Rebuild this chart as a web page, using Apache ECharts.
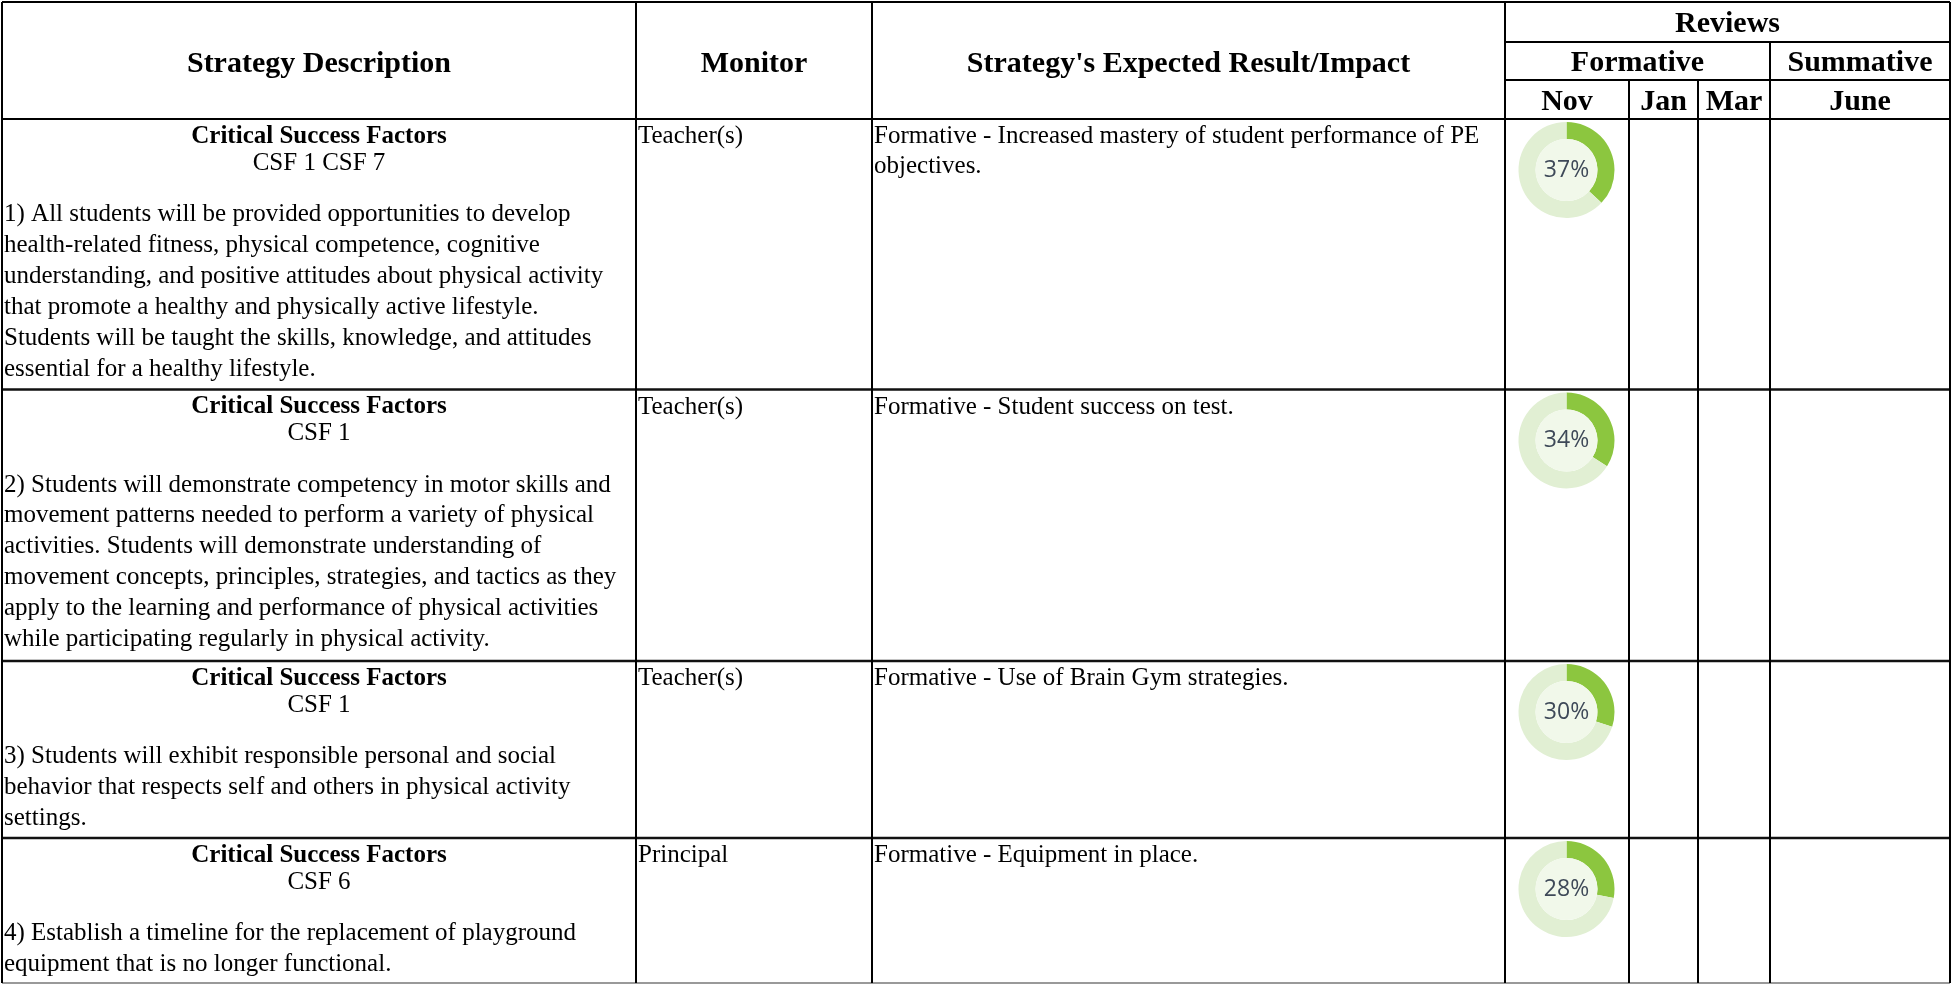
<!DOCTYPE html>
<html><head><meta charset="utf-8">
<script src="https://cdn.jsdelivr.net/npm/echarts@6/dist/echarts.min.js"></script>
<style>html,body{margin:0;padding:0;background:#fff}#c{width:1951px;height:984px}</style>
</head><body><div id="c"></div>
<script>
// ---- data ----
const headers = ["Strategy Description", "Monitor", "Strategy's Expected Result/Impact"];
const reviewTitle = "Reviews";
const reviewGroups = ["Formative", "Summative"];
const months = ["Nov", "Jan", "Mar", "June"];
const csfTitle = "Critical Success Factors";
const csfCodes = ["CSF 1 CSF 7", "CSF 1", "CSF 1", "CSF 6"];
const strategies = [
  ["1) All students will be provided opportunities to develop",
   "health-related fitness, physical competence, cognitive",
   "understanding, and positive attitudes about physical activity",
   "that promote a healthy and physically active lifestyle.",
   "Students will be taught the skills, knowledge, and attitudes",
   "essential for a healthy lifestyle."],
  ["2) Students will demonstrate competency in motor skills and",
   "movement patterns needed to perform a variety of physical",
   "activities. Students will demonstrate understanding of",
   "movement concepts, principles, strategies, and tactics as they",
   "apply to the learning and performance of physical activities",
   "while participating regularly in physical activity."],
  ["3) Students will exhibit responsible personal and social",
   "behavior that respects self and others in physical activity",
   "settings."],
  ["4) Establish a timeline for the replacement of playground",
   "equipment that is no longer functional."]
];
const monitors = ["Teacher(s)", "Teacher(s)", "Teacher(s)", "Principal"];
const results = [
  ["Formative - Increased mastery of student performance of PE", "objectives."],
  ["Formative - Student success on test."],
  ["Formative - Use of Brain Gym strategies."],
  ["Formative - Equipment in place."]
];
const novProgress = [37, 34, 30, 28];

// ---- layout ----
const COLS = [2, 636, 872, 1505, 1629, 1698, 1770, 1950];
const HEAD = [2, 42, 80, 119];
const ROWS = [119, 389.5, 661, 838, 983];
const SERIF = '"Liberation Serif","Times New Roman",serif';

const g = [];
function txt(x, y, text, size, bold, align) {
  g.push({ type: 'text', x: x, y: y, z: 10, silent: true,
    style: { text: text, fill: '#000', font: (bold ? 'bold ' : '') + size + 'px ' + SERIF,
      align: align || 'left', verticalAlign: 'middle', textAlign: align || 'left', textVerticalAlign: 'middle' } });
}
function line(x1, y1, x2, y2, color, w) {
  g.push({ type: 'line', z: 20, silent: true, shape: { x1: x1, y1: y1, x2: x2, y2: y2 },
    style: { stroke: color || '#000', lineWidth: w || 2 } });
}

// header text
txt((COLS[0] + COLS[1]) / 2, 64.5, headers[0], 30, true, 'center');
txt((COLS[1] + COLS[2]) / 2, 64.5, headers[1], 30, true, 'center');
txt((COLS[2] + COLS[3]) / 2, 64.5, headers[2], 30, true, 'center');
txt((COLS[3] + COLS[7]) / 2, 24.5, reviewTitle, 30, true, 'center');
txt((COLS[3] + COLS[6]) / 2, 63.5, reviewGroups[0], 30, true, 'center');
txt((COLS[6] + COLS[7]) / 2, 63.5, reviewGroups[1], 30, true, 'center');
for (let m = 0; m < 4; m++) {
  const a = [COLS[3], COLS[4], COLS[5], COLS[6]][m], b = [COLS[4], COLS[5], COLS[6], COLS[7]][m];
  txt((a + b) / 2, 102.5, months[m], 30, true, 'center');
}

// body rows
for (let r = 0; r < 4; r++) {
  const T = ROWS[r];
  txt((COLS[0] + COLS[1]) / 2, T + 17.5, csfTitle, 25, true, 'center');
  txt((COLS[0] + COLS[1]) / 2, T + 44, csfCodes[r], 25, false, 'center');
  strategies[r].forEach((s, i) => txt(4, T + 95.5 + i * 30.9, s, 25, false, 'left'));
  txt(COLS[1] + 2, T + 17.5, monitors[r], 25, false, 'left');
  results[r].forEach((s, i) => txt(COLS[2] + 2, T + 17.5 + i * 29.5, s, 25, false, 'left'));
}

// grid lines
line(COLS[0], HEAD[0], COLS[7], HEAD[0]);
line(COLS[3], HEAD[1], COLS[7], HEAD[1]);
line(COLS[3], HEAD[2], COLS[7], HEAD[2]);
line(COLS[0], HEAD[3], COLS[7], HEAD[3]);
for (let r = 1; r < 4; r++) line(COLS[0], ROWS[r], COLS[7], ROWS[r], '#111', 2.5);
line(COLS[0], ROWS[4], COLS[7], ROWS[4], '#999', 2);
[0, 1, 2, 3, 7].forEach(c => line(COLS[c], HEAD[0], COLS[c], ROWS[4]));
line(COLS[6], HEAD[1], COLS[6], ROWS[4]);
line(COLS[4], HEAD[2], COLS[4], ROWS[4]);
line(COLS[5], HEAD[2], COLS[5], ROWS[4]);

// donuts
const series = [];
const cx = (COLS[3] + COLS[4]) / 2 - 0.5;
novProgress.forEach((v, i) => {
  const center = [cx, ROWS[i] + 51];
  series.push({ type: 'pie', center: center, radius: [31, 48], startAngle: 90, clockwise: true,
    silent: true, avoidLabelOverlap: false, label: { show: false }, labelLine: { show: false },
    emphasis: { disabled: true },
    data: [{ value: v, itemStyle: { color: '#8cc63f' } }, { value: 100 - v, itemStyle: { color: '#e1efd3' } }] });
  series.push({ type: 'pie', center: center, radius: [0, 31], silent: true,
    emphasis: { disabled: true }, labelLine: { show: false },
    label: { show: true, position: 'center', formatter: '{c}%', fontSize: 23,
      fontFamily: '"Open Sans","Noto Sans",sans-serif', color: '#3e4958' },
    data: [{ value: v, itemStyle: { color: '#f1f8ea' } }] });
});

const chart = echarts.init(document.getElementById('c'), null, { renderer: 'canvas' });
chart.setOption({ animation: false, backgroundColor: '#fff', graphic: g, series: series });
</script></body></html>
